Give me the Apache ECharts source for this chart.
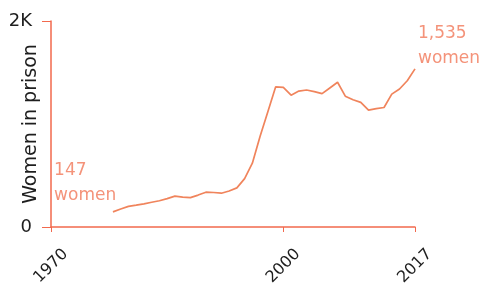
<!DOCTYPE html>
<html>
<head>
<meta charset="utf-8">
<script src="https://cdn.jsdelivr.net/npm/echarts@6/dist/echarts.min.js"></script>
<style>
  html, body { margin: 0; padding: 0; background: #fff; }
  #chart { width: 484px; height: 293px; }
</style>
</head>
<body>
<div id="chart"></div>
<script>
// women in prison, yearly
var years = [1978, 1979, 1980, 1981, 1982, 1983, 1984, 1985, 1986, 1987,
    1988, 1989, 1990, 1991, 1992, 1993, 1994, 1995, 1996, 1997,
    1998, 1999, 2000, 2001, 2002, 2003, 2004, 2005, 2006, 2007,
    2008, 2009, 2010, 2011, 2012, 2013, 2014, 2015, 2016, 2017];
var women = [147, 175, 200, 212, 225, 240, 255, 275, 300, 290,
    285, 310, 338, 335, 328, 350, 380, 470, 620, 880,
    1120, 1360, 1355, 1280, 1320, 1330, 1315, 1295, 1350, 1405,
    1270, 1235, 1210, 1135, 1150, 1160, 1290, 1340, 1420, 1535];
var xTicks = [1970, 2000, 2017];

var lineColor = '#f0845c';
var axisRed = '#f2694d';
var noteColor = '#f4937a';
var font = '"DejaVu Sans", sans-serif';

var chart = echarts.init(document.getElementById('chart'));

var points = [];
for (var i = 0; i < years.length; i++) {
    points.push([years[i], women[i]]);
}

chart.setOption({
    animation: false,
    grid: {left: 51, right: 69, top: 21, bottom: 66, containLabel: false, outerBoundsMode: 'none'},
    xAxis: {
        type: 'value',
        min: 1970,
        max: 2017,
        splitLine: {show: false},
        axisLine: {lineStyle: {color: axisRed, width: 1.5}},
        axisTick: {
            show: true,
            customValues: xTicks,
            length: 5,
            lineStyle: {color: axisRed}
        },
        axisLabel: {
            customValues: xTicks,
            rotate: 45,
            align: 'center',
            verticalAlign: 'middle',
            margin: 39,
            color: '#1e1e1e',
            fontSize: 16,
            fontFamily: font,
            formatter: function (v) {
                return String(v);
            }
        }
    },
    yAxis: {
        type: 'value',
        min: 0,
        max: 2000,
        interval: 2000,
        name: 'Women in prison',
        nameLocation: 'middle',
        nameGap: 10,
        nameMoveOverlap: false,
        nameTextStyle: {color: '#1e1e1e', fontSize: 19, fontFamily: font},
        splitLine: {show: false},
        axisLine: {show: true, lineStyle: {color: axisRed, width: 1.5}},
        axisTick: {show: true, length: 9, lineStyle: {color: axisRed}},
        axisLabel: {
            margin: 19,
            color: '#1e1e1e',
            fontSize: 18,
            fontFamily: font,
            formatter: function (v) {
                return v === 0 ? '0' : (v / 1000) + 'K';
            }
        }
    },
    series: [{
        type: 'line',
        data: points,
        clip: false,
        showSymbol: false,
        lineStyle: {color: lineColor, width: 1.7},
        markPoint: {
            symbol: 'circle',
            symbolSize: 0,
            label: {
                show: true,
                position: 'inside',
                align: 'left',
                verticalAlign: 'middle',
                color: noteColor,
                fontSize: 17,
                lineHeight: 25,
                fontFamily: font
            },
            data: [
                {coord: [1970.4, 427], value: '147\nwomen'},
                {coord: [2017, 1757], value: '1,535\nwomen', label: {offset: [3, 0]}}
            ]
        }
    }]
});
</script>
</body>
</html>
